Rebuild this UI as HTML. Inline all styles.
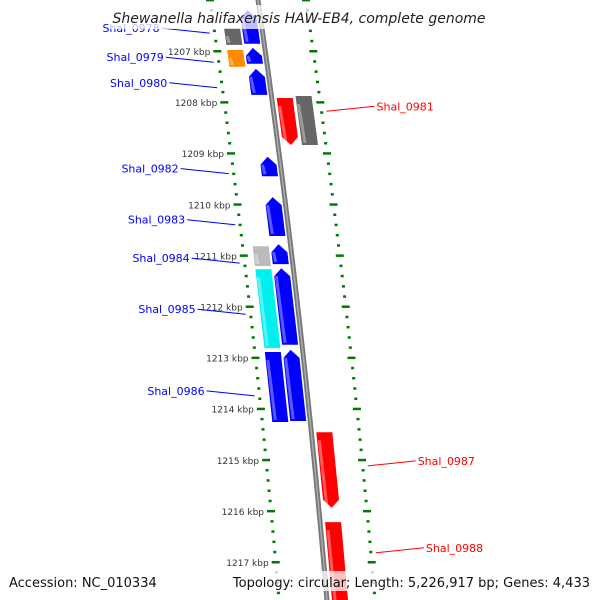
<!DOCTYPE html>
<html><head><meta charset="utf-8"><style>
body{margin:0;background:#fff}
svg{display:block;font-family:"DejaVu Sans","Liberation Sans",sans-serif}
</style></head><body>
<svg id="map" width="600" height="600" viewBox="0 0 600 600" xmlns="http://www.w3.org/2000/svg">
<g id="ticks"></g>
<path id="backbone" fill="none" stroke="#777" stroke-width="5"/>
<path id="backbone2" fill="none" stroke="#aaa" stroke-width="1.5"/>
<g id="genes"></g>
<g id="labels"></g>
<rect x="110" y="5" width="375" height="24" fill="#fff" opacity="0.75"/>
<text x="299" y="23" text-anchor="middle" font-size="14" font-style="italic" fill="#222">Shewanella halifaxensis HAW-EB4, complete genome</text>
<rect x="0" y="571" width="600" height="20" fill="#fff" opacity="0.75"/>
<text x="9" y="587" font-size="13" fill="#111">Accession: NC_010334</text>
<text x="590" y="587" text-anchor="end" font-size="13" fill="#111">Topology: circular; Length: 5,226,917 bp; Genes: 4,433</text>
</svg>
<script>
const tickKbp=[1207,1208,1209,1210,1211,1212,1213,1214,1215,1216,1217];
const geneNames=["Shal_0978","Shal_0978b","Shal_0979","Shal_0979b","Shal_0980","Shal_0981","Shal_0981b","Shal_0982","Shal_0983","Shal_0984","Shal_0984b","Shal_0985","Shal_0985b","Shal_0986","Shal_0986b","Shal_0987","Shal_0988","Shal_0989"];
const geneStart=[1206.20,1206.55,1206.98,1206.94,1207.35,1207.92,1207.88,1209.07,1209.86,1210.78,1210.82,1211.25,1211.27,1212.85,1212.89,1214.46,1216.22,1217.85];
const geneEnd=[1206.86,1206.88,1207.31,1207.25,1207.86,1208.84,1208.84,1209.45,1210.62,1211.17,1211.21,1212.75,1212.81,1214.24,1214.26,1215.94,1217.95,1218.2];
const geneLane=["A","B","B","A","A","C","D","A","A","A","B","A","B","A","B","C","C","D"];
const geneColor=["#0000ff","#666666","#ff8c00","#0000ff","#0000ff","#ff0000","#666666","#0000ff","#0000ff","#0000ff","#bbbbbb","#0000ff","#00f0f0","#0000ff","#0000ff","#ff0000","#ff0000","#bbbbbb"];
const geneArrow=[1,0,0,1,1,-1,0,1,1,1,0,1,0,1,0,-1,0,0];
const labelNames=["Shal_0978","Shal_0979","Shal_0980","Shal_0981","Shal_0982","Shal_0983","Shal_0984","Shal_0985","Shal_0986","Shal_0987","Shal_0988"];
const labelGeneKbp=[1206.65,1207.22,1207.72,1208.18,1209.40,1210.40,1211.15,1212.15,1213.75,1215.12,1216.82];
const labelSide=[-1,-1,-1,1,-1,-1,-1,-1,-1,1,1];

const NS="http://www.w3.org/2000/svg";
const ky=k=>51+(k-1207)*51.1;
const bx=y=>258+0.145*y-0.00005*y*y;
const lanes={A:[-20,-4],B:[-38,-22],C:[5,21],D:[24,40]};
function mk(t,a,p){const e=document.createElementNS(NS,t);for(const k in a)e.setAttribute(k,a[k]);(p||document.getElementById('map')).appendChild(e);return e;}
let d="";for(let y=-10;y<=610;y+=10)d+=(y<0?"M":"L")+bx(y).toFixed(1)+","+y;
document.getElementById('backbone').setAttribute('d',d);
document.getElementById('backbone2').setAttribute('d',d);
const tg=document.getElementById('ticks');
for(let k=1206;k<=1218.2;k+=0.2){
  const kk=Math.round(k*5)/5,y=ky(kk),major=Math.abs(kk-Math.round(kk))<0.01;
  [-48,48].forEach(o=>{
    const x=bx(y)+o,w=major?8:3;
    const r=mk('rect',{x:(x-w/2).toFixed(1),y:(y-1).toFixed(1),width:w,height:2.5,fill:'#007a00'},tg);
    
    
  });
}
tickKbp.forEach(k=>{const y=ky(k);
  const t=mk('text',{x:(bx(y)-55).toFixed(1),y:(y+4).toFixed(1),'text-anchor':'end','font-size':9,fill:'#333'},tg);
  t.textContent=k+" kbp";
  
  
});
const gg=document.getElementById('genes');
geneNames.forEach((n,i)=>{
  const y1=ky(geneStart[i]),y2=ky(geneEnd[i]),[o1,o2]=lanes[geneLane[i]];
  const b1=bx(y1),b2=bx(y2),a=geneArrow[i],h=Math.min(8,(y2-y1)/2),m=(o1+o2)/2;
  let pts;
  if(a===1){const yy=y1+h,bb=bx(yy);pts=[[b2+o1,y2],[bb+o1,yy],[bx(y1)+m,y1],[bb+o2,yy],[b2+o2,y2]];}
  else if(a===-1){const yy=y2-h,bb=bx(yy);pts=[[b1+o1,y1],[b1+o2,y1],[bb+o2,yy],[bx(y2)+m,y2],[bb+o1,yy]];}
  else pts=[[b1+o1,y1],[b1+o2,y1],[b2+o2,y2],[b2+o1,y2]];
  const p=mk('polygon',{points:pts.map(q=>q[0].toFixed(1)+","+q[1].toFixed(1)).join(" "),fill:geneColor[i]},gg);
  
  
  const s=mk('line',{x1:b1+o1+3,y1:y1+h,x2:b2+o1+3,y2:y2-2,stroke:'#fff','stroke-opacity':0.35,'stroke-width':3},gg);
  
  
});
const lg=document.getElementById('labels');
labelNames.forEach((n,i)=>{
  const y=ky(labelGeneKbp[i]),sd=labelSide[i],col=sd<0?'#0000ff':'#ff0000';
  const x1=bx(y)+sd*53,x2=x1+sd*48,ty=y-5;
  const l=mk('line',{x1:x1.toFixed(1),y1:y.toFixed(1),x2:x2.toFixed(1),y2:ty.toFixed(1),stroke:col,'stroke-width':1},lg);
  
  
  const t=mk('text',{x:(x2+sd*2).toFixed(1),y:(ty+4).toFixed(1),'text-anchor':sd<0?'end':'start','font-size':11,fill:col},lg);
  t.textContent=n;
  
  
});
</script>
</body></html>
